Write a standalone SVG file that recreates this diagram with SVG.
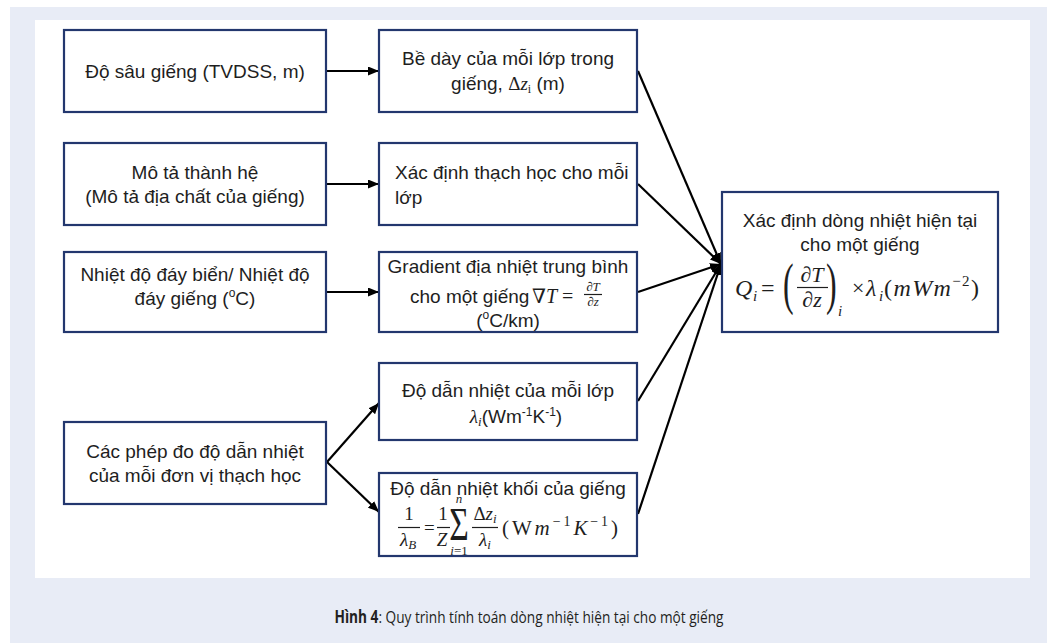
<svg xmlns="http://www.w3.org/2000/svg" width="1058" height="643" viewBox="0 0 1058 643">
<style>
.bg{fill:#E8ECF6}
.box{fill:#fff;stroke:#23376E;stroke-width:2.2}
.t{font-family:"Liberation Sans",Arial,sans-serif;font-size:19px;fill:#1e1e1e}
.m{font-family:"Liberation Serif","Times New Roman","DejaVu Serif",serif;fill:#1e1e1e}
.i{font-style:italic}
.c{text-anchor:middle}
.edge{stroke:#000;stroke-width:2.2;fill:none;marker-end:url(#ah)}
.bar{stroke:#1e1e1e;stroke-width:1.2}
</style>
<defs>
<marker id="ah" markerUnits="userSpaceOnUse" markerWidth="11" markerHeight="9" refX="11" refY="4.5" orient="auto">
<path d="M0,0 L11,4.5 L0,9 z" fill="#000"/>
</marker>
</defs>
<rect x="0" y="0" width="1058" height="643" fill="#fff"/>
<rect class="bg" x="10" y="7" width="1037" height="636"/>
<rect x="35" y="20" width="995" height="558" fill="#fff"/>

<g id="connectors">
<line class="edge" x1="327" y1="71" x2="379" y2="71"/>
<line class="edge" x1="327" y1="184" x2="379" y2="184"/>
<line class="edge" x1="327" y1="292" x2="379" y2="292"/>
<line class="edge" x1="327" y1="462" x2="379" y2="403"/>
<line class="edge" x1="327" y1="462" x2="379" y2="512"/>
<line class="edge" x1="638" y1="71" x2="721" y2="264"/>
<line class="edge" x1="638" y1="184" x2="721" y2="264"/>
<line class="edge" x1="638" y1="292" x2="721" y2="264"/>
<line class="edge" x1="638" y1="401" x2="721" y2="264"/>
<line class="edge" x1="638" y1="514" x2="721" y2="264"/>
</g>

<g id="L1">
<rect class="box" x="64" y="30" width="262" height="82"/>
<text class="t c" x="195" y="78">Độ sâu giếng (TVDSS, m)</text>
</g>
<g id="L2">
<rect class="box" x="64" y="143" width="262" height="82"/>
<text class="t c" x="195" y="179">Mô tả thành hệ</text>
<text class="t c" x="195" y="203">(Mô tả địa chất của giếng)</text>
</g>
<g id="L3">
<rect class="box" x="64" y="252" width="262" height="80"/>
<text class="t c" x="195" y="281">Nhiệt độ đáy biển/ Nhiệt độ</text>
<text class="t c" x="195" y="305">đáy giếng (<tspan font-size="12" dy="-8">o</tspan><tspan dy="8">C)</tspan></text>
</g>
<g id="L4">
<rect class="box" x="64" y="422" width="262" height="82"/>
<text class="t c" x="195" y="458">Các phép đo độ dẫn nhiệt</text>
<text class="t c" x="195" y="482">của mỗi đơn vị thạch học</text>
</g>

<g id="M1">
<rect class="box" x="379" y="30" width="258" height="82"/>
<text class="t c" x="508" y="65">Bề dày của mỗi lớp trong</text>
<text class="t c" x="508" y="90">giếng, <tspan class="m">Δ</tspan><tspan class="m i">z</tspan><tspan class="m" font-size="12" dy="3">i</tspan><tspan dy="-3"> (m)</tspan></text>
</g>
<g id="M2">
<rect class="box" x="379" y="143" width="258" height="82"/>
<text class="t" x="395" y="179">Xác định thạch học cho mỗi</text>
<text class="t" x="395" y="204">lớp</text>
</g>
<g id="M3">
<rect class="box" x="379" y="252" width="258" height="80"/>
<text class="t c" x="508" y="273">Gradient địa nhiệt trung bình</text>
<text class="t" x="410" y="303">cho một giếng</text>
<text class="m" x="532" y="303" font-size="20">∇<tspan class="i">T</tspan> =</text>
<text class="m i c" x="593" y="291" font-size="13">∂T</text>
<line class="bar" x1="584" y1="294.5" x2="602" y2="294.5"/>
<text class="m i c" x="593" y="306" font-size="13">∂z</text>
<text class="t c" x="508" y="327">(<tspan font-size="12" dy="-8">o</tspan><tspan dy="8">C/km)</tspan></text>
</g>
<g id="M4">
<rect class="box" x="379" y="363" width="258" height="77"/>
<text class="t c" x="508" y="397">Độ dẫn nhiệt của mỗi lớp</text>
<text class="t c" x="516" y="423"><tspan class="m i">λ</tspan><tspan class="m i" font-size="13" dy="3">i</tspan><tspan dy="-3">(Wm</tspan><tspan font-size="12" dy="-7">-1</tspan><tspan dy="7">K</tspan><tspan font-size="12" dy="-7">-1</tspan><tspan dy="7">)</tspan></text>
</g>
<g id="M5">
<rect class="box" x="379" y="473" width="258" height="83"/>
<text class="t c" x="508" y="495">Độ dẫn nhiệt khối của giếng</text>
<text class="m c" x="409" y="520" font-size="19">1</text>
<line class="bar" x1="398" y1="527.5" x2="420" y2="527.5"/>
<text class="m i" x="400" y="546" font-size="19">λ<tspan font-size="13" dy="3">B</tspan></text>
<text class="m" x="424" y="534" font-size="19">=</text>
<text class="m c" x="443" y="520" font-size="19">1</text>
<line class="bar" x1="437" y1="527.5" x2="450" y2="527.5"/>
<text class="m i c" x="442" y="546" font-size="19">Z</text>
<text class="m c" font-size="42" transform="translate(459,540) scale(0.8,1.08)">Σ</text>
<text class="m i c" x="459" y="503" font-size="13">n</text>
<text class="m c" x="459" y="555" font-size="13"><tspan class="i">i</tspan>=1</text>
<text class="m c" x="485" y="520" font-size="19">Δ<tspan class="i">z</tspan><tspan class="i" font-size="13" dy="3">i</tspan></text>
<line class="bar" x1="472" y1="527.5" x2="498" y2="527.5"/>
<text class="m i c" x="485" y="546" font-size="19">λ<tspan font-size="13" dy="3">i</tspan></text>
<text class="m" x="502" y="535" font-size="21" textLength="116" lengthAdjust="spacing">(W<tspan class="i">m</tspan><tspan font-size="14" dy="-9">−1</tspan><tspan class="i" dy="9">K</tspan><tspan font-size="14" dy="-9">−1</tspan><tspan dy="9">)</tspan></text>
</g>

<g id="R">
<rect class="box" x="722" y="192" width="276" height="140"/>
<text class="t c" x="860" y="227">Xác định dòng nhiệt hiện tại</text>
<text class="t c" x="860" y="251">cho một giếng</text>
<text class="m i" x="735" y="296" font-size="24">Q</text>
<text class="m i" x="753" y="301" font-size="15">i</text>
<text class="m" x="761" y="296" font-size="24">=</text>
<text class="m" font-size="58" transform="translate(783,303) scale(0.55,1)">(</text>
<text class="m i c" x="812" y="282" font-size="22">∂T</text>
<line class="bar" x1="797" y1="287.5" x2="828" y2="287.5" stroke-width="1.4"/>
<text class="m i c" x="812" y="307" font-size="22">∂z</text>
<text class="m" font-size="58" transform="translate(826,303) scale(0.55,1)">)</text>
<text class="m i" x="838" y="316" font-size="15">i</text>
<text class="m" x="852" y="295" font-size="22">×</text>
<text class="m i" x="866" y="296" font-size="24">λ</text>
<text class="m i" x="879" y="301" font-size="15">i</text>
<text class="m" x="884" y="296" font-size="24" textLength="95" lengthAdjust="spacing">(<tspan class="i">mWm</tspan><tspan font-size="15" dy="-10">−2</tspan><tspan dy="10">)</tspan></text>
</g>

<g id="caption">
<text x="529" y="623" text-anchor="middle" font-family="'Open Sans','Noto Sans',sans-serif" font-size="17" fill="#231F20" textLength="389" lengthAdjust="spacingAndGlyphs"><tspan font-weight="bold">Hình 4</tspan>: Quy trình tính toán dòng nhiệt hiện tại cho một giếng</text>
</g>
</svg>
